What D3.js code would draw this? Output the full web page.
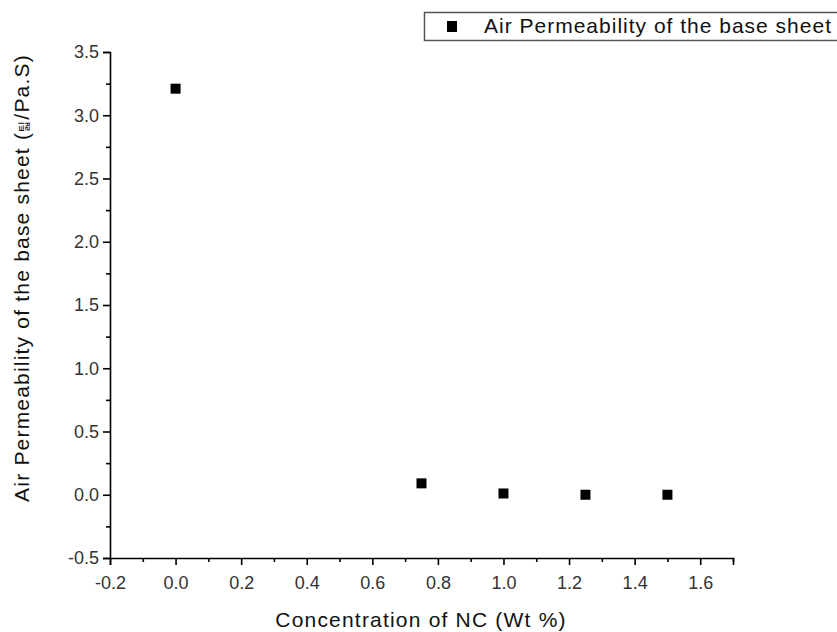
<!DOCTYPE html>
<html>
<head>
<meta charset="utf-8">
<script src="https://cdn.jsdelivr.net/npm/d3@7"></script>
<style>
  body { margin: 0; background: #fff; }
  svg { font-family: "Liberation Sans", Arial, sans-serif; }
</style>
</head>
<body>
<svg width="837" height="632"></svg>
<script>
// data
var concentration = [0, 0.75, 1.0, 1.25, 1.5];
var permeability = [3.21, 0.09, 0.01, 0.0, 0.0];
var xTicks = [-0.2, 0, 0.2, 0.4, 0.6, 0.8, 1.0, 1.2, 1.4, 1.6];
var yTicks = [-0.5, 0, 0.5, 1.0, 1.5, 2.0, 2.5, 3.0, 3.5];
var seriesName = "Air Permeability of the base sheet";

var svg = d3.select("svg");

let x = d3.scaleLinear().domain([-0.2, 1.7]).range([110, 733]);
let y = d3.scaleLinear().domain([-0.5, 3.5]).range([558, 52]);

// minor ticks halfway between majors
let xMinor = d3.range(-0.1, 1.71, 0.2);
let yMinor = d3.range(-0.25, 3.5, 0.5);
let fmt = function (d) { return d.toFixed(1); };

svg.append("g")
  .attr("transform", "translate(0,558)")
  .call(d3.axisBottom(x).tickValues(xTicks).tickFormat(fmt).tickSizeOuter(0).tickSize(7).tickPadding(11));
svg.append("g")
  .attr("transform", "translate(0,558)")
  .call(d3.axisBottom(x).tickValues(xMinor).tickFormat("").tickSizeOuter(0).tickSize(4))
  .select(".domain").remove();

svg.append("g")
  .attr("transform", "translate(110,0)")
  .call(d3.axisLeft(y).tickValues(yTicks).tickFormat(fmt).tickSizeOuter(0).tickSize(7).tickPadding(4));
svg.append("g")
  .attr("transform", "translate(110,0)")
  .call(d3.axisLeft(y).tickValues(yMinor).tickFormat("").tickSizeOuter(0).tickSize(4))
  .select(".domain").remove();

svg.selectAll(".domain, .tick line").attr("stroke", "#000").attr("stroke-width", 1.6);
svg.selectAll(".tick text")
  .attr("font-family", "Liberation Sans, Arial, sans-serif")
  .attr("font-size", 18)
  .attr("fill", "#333");

// axis titles
svg.append("text")
  .attr("x", 421)
  .attr("y", 627)
  .attr("text-anchor", "middle")
  .attr("font-size", 21)
  .attr("letter-spacing", 1.2)
  .attr("fill", "#111")
  .text("Concentration of NC (Wt %)");

let yt = svg.append("text")
  .attr("transform", "translate(29,278) rotate(-90)")
  .attr("text-anchor", "middle")
  .attr("font-size", 21)
  .attr("letter-spacing", 1.2)
  .attr("fill", "#111");
yt.append("tspan").text("Air Permeability of the base sheet (");
yt.append("tspan").attr("font-size", 12).attr("font-family", "Noto Sans CJK KR").text("틻");
yt.append("tspan").text("/Pa.S)");

// points
svg.selectAll("rect.pt").data(concentration)
  .enter().append("rect")
  .attr("class", "pt")
  .attr("x", function (d) { return x(d) - 5; })
  .attr("y", function (d, i) { return y(permeability[i]) - 5; })
  .attr("width", 10)
  .attr("height", 10)
  .attr("fill", "#000");

// legend
svg.append("rect")
  .attr("x", 424.5).attr("y", 12.5)
  .attr("width", 430).attr("height", 28)
  .attr("fill", "#fff").attr("stroke", "#555").attr("stroke-width", 1.5);
svg.append("rect")
  .attr("x", 447).attr("y", 21)
  .attr("width", 10).attr("height", 11)
  .attr("fill", "#000");
svg.append("text")
  .attr("x", 484).attr("y", 33)
  .attr("font-size", 21)
  .attr("letter-spacing", 1.0)
  .attr("fill", "#111")
  .text(seriesName);
</script>
</body>
</html>
